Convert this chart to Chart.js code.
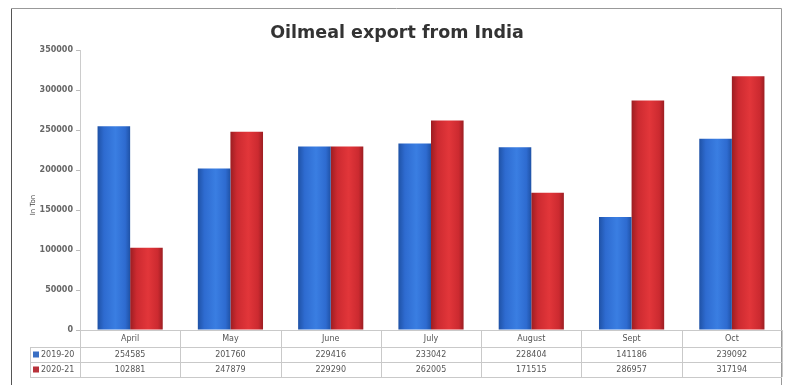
<!DOCTYPE html>
<html lang="en">

<head>
    <meta charset="UTF-8">
    <title>Oilmeal export from India</title>
    <script src="https://cdn.jsdelivr.net/npm/chart.js"></script>
    <style>
        body { margin: 0; background: #fff; }
    </style>
</head>

<body>
    <canvas id="oilmeal" width="791" height="386"></canvas>

    <script>
        // dades llegides del gràfic
        const months = ['April', 'May', 'June', 'July', 'August', 'Sept', 'Oct'];
        const seriesNames = ['2019-20', '2020-21'];
        const exports1920 = [254585, 201760, 229416, 233042, 228404, 141186, 239092];
        const exports2021 = [102881, 247879, 229290, 262005, 171515, 286957, 317194];
        const yTicks = [0, 50000, 100000, 150000, 200000, 250000, 300000, 350000];

        const catPct = 0.65;
        const tableFont = '8px "DejaVu Sans"';
        const lineColor = '#c9c9c9';

        // degradat horitzontal per cada barra (efecte cilindre)
        function barGradient(ctx, dark, mid, light) {
            const chart = ctx.chart;
            const x = chart.scales.x;
            if (!x || !chart.chartArea) return mid;
            const catW = (x.right - x.left) / months.length;
            const w = catW * catPct / 2;
            const c = x.getPixelForValue(ctx.dataIndex);
            const left = ctx.datasetIndex === 0 ? c - w : c;
            const g = chart.ctx.createLinearGradient(left, 0, left + w, 0);
            g.addColorStop(0, dark);
            g.addColorStop(0.2, mid);
            g.addColorStop(0.55, light);
            g.addColorStop(0.85, mid);
            g.addColorStop(1, dark);
            return g;
        }

        // marc, títol i taula de dades
        const decorPlugin = {
            id: 'decor',
            beforeDraw(chart) {
                const c = chart.ctx;
                c.save();
                c.strokeStyle = '#555';
                c.lineWidth = 1;
                c.beginPath();
                c.moveTo(11.5, 385);
                c.lineTo(11.5, 8.5);
                c.stroke();
                c.strokeStyle = '#999';
                c.beginPath();
                c.moveTo(11.5, 8.5);
                c.lineTo(781.5, 8.5);
                c.lineTo(781.5, 385);
                c.stroke();
                c.restore();
            },
            afterDraw(chart) {
                const c = chart.ctx;
                const x = chart.scales.x;
                const area = chart.chartArea;
                const catW = (x.right - x.left) / months.length;
                const rows = [area.bottom, area.bottom + 17, area.bottom + 32, area.bottom + 47];
                c.save();

                // títol
                c.fillStyle = '#333';
                c.font = 'bold 17.5px "DejaVu Sans"';
                c.textAlign = 'center';
                c.textBaseline = 'middle';
                c.fillText('Oilmeal export from India', 397, 33);

                // eix y
                c.save();
                c.translate(33, 205);
                c.rotate(-Math.PI / 2);
                c.font = '7px "DejaVu Sans"';
                c.fillStyle = '#444';
                c.fillText('In Ton', 0, 0);
                c.restore();

                // línies de la taula
                c.strokeStyle = lineColor;
                c.lineWidth = 1;
                c.beginPath();
                rows.forEach((y, i) => {
                    const start = i === 0 ? x.left : 30;
                    c.moveTo(start, Math.round(y) + 0.5);
                    c.lineTo(x.right, Math.round(y) + 0.5);
                });
                c.moveTo(30.5, rows[1]);
                c.lineTo(30.5, rows[3]);
                for (let i = 0; i <= months.length; i++) {
                    const xx = Math.round(x.left + i * catW) + 0.5;
                    c.moveTo(xx, rows[0]);
                    c.lineTo(xx, rows[3]);
                }
                c.stroke();

                // textos
                c.font = tableFont;
                c.fillStyle = '#555';
                const dataRows = [exports1920, exports2021];
                months.forEach((m, i) => {
                    const cx = x.getPixelForValue(i);
                    c.fillText(m, cx, (rows[0] + rows[1]) / 2);
                    dataRows.forEach((d, r) => {
                        c.fillText(String(d[i]), cx, (rows[r + 1] + rows[r + 2]) / 2);
                    });
                });

                // llegenda dins la taula
                const keys = ['#3a6fc4', '#b8323a'];
                c.textAlign = 'left';
                seriesNames.forEach((n, r) => {
                    const y = (rows[r + 1] + rows[r + 2]) / 2;
                    c.fillStyle = keys[r];
                    c.fillRect(33, y - 3, 6, 6);
                    c.fillStyle = '#555';
                    c.fillText(n, 41, y);
                });
                c.restore();
            }
        };

        const ctx = document.getElementById('oilmeal').getContext('2d');
        new Chart(ctx, {
            type: 'bar',
            data: {
                labels: months,
                datasets: [{
                    label: seriesNames[0],
                    data: exports1920,
                    backgroundColor: c => barGradient(c, '#1f52a6', '#2e6bd0', '#3a7ee2')
                }, {
                    label: seriesNames[1],
                    data: exports2021,
                    backgroundColor: c => barGradient(c, '#9c1e22', '#cc2a30', '#e2363a')
                }]
            },
            options: {
                responsive: false,
                animation: false,
                layout: {
                    padding: { left: 10, right: 9, top: 50, bottom: 56 }
                },
                plugins: {
                    legend: { display: false },
                    title: { display: false },
                    tooltip: { enabled: false }
                },
                datasets: {
                    bar: { categoryPercentage: catPct, barPercentage: 1 }
                },
                scales: {
                    x: {
                        ticks: { display: false },
                        grid: { display: false },
                        border: { color: lineColor },
                        afterFit: s => { s.height = 0; }
                    },
                    y: {
                        min: 0,
                        max: 350000,
                        afterBuildTicks: s => { s.ticks = yTicks.map(v => ({ value: v })); },
                        afterFit: s => { s.width = 70; },
                        ticks: {
                            font: { family: 'DejaVu Sans', size: 8, weight: 'bold' },
                            color: '#666',
                            padding: 3,
                            callback: v => String(v)
                        },
                        grid: { drawOnChartArea: false, tickLength: 4, color: '#bbb' },
                        border: { color: '#ccc' }
                    }
                }
            },
            plugins: [decorPlugin]
        });
    </script>
</body>

</html>
